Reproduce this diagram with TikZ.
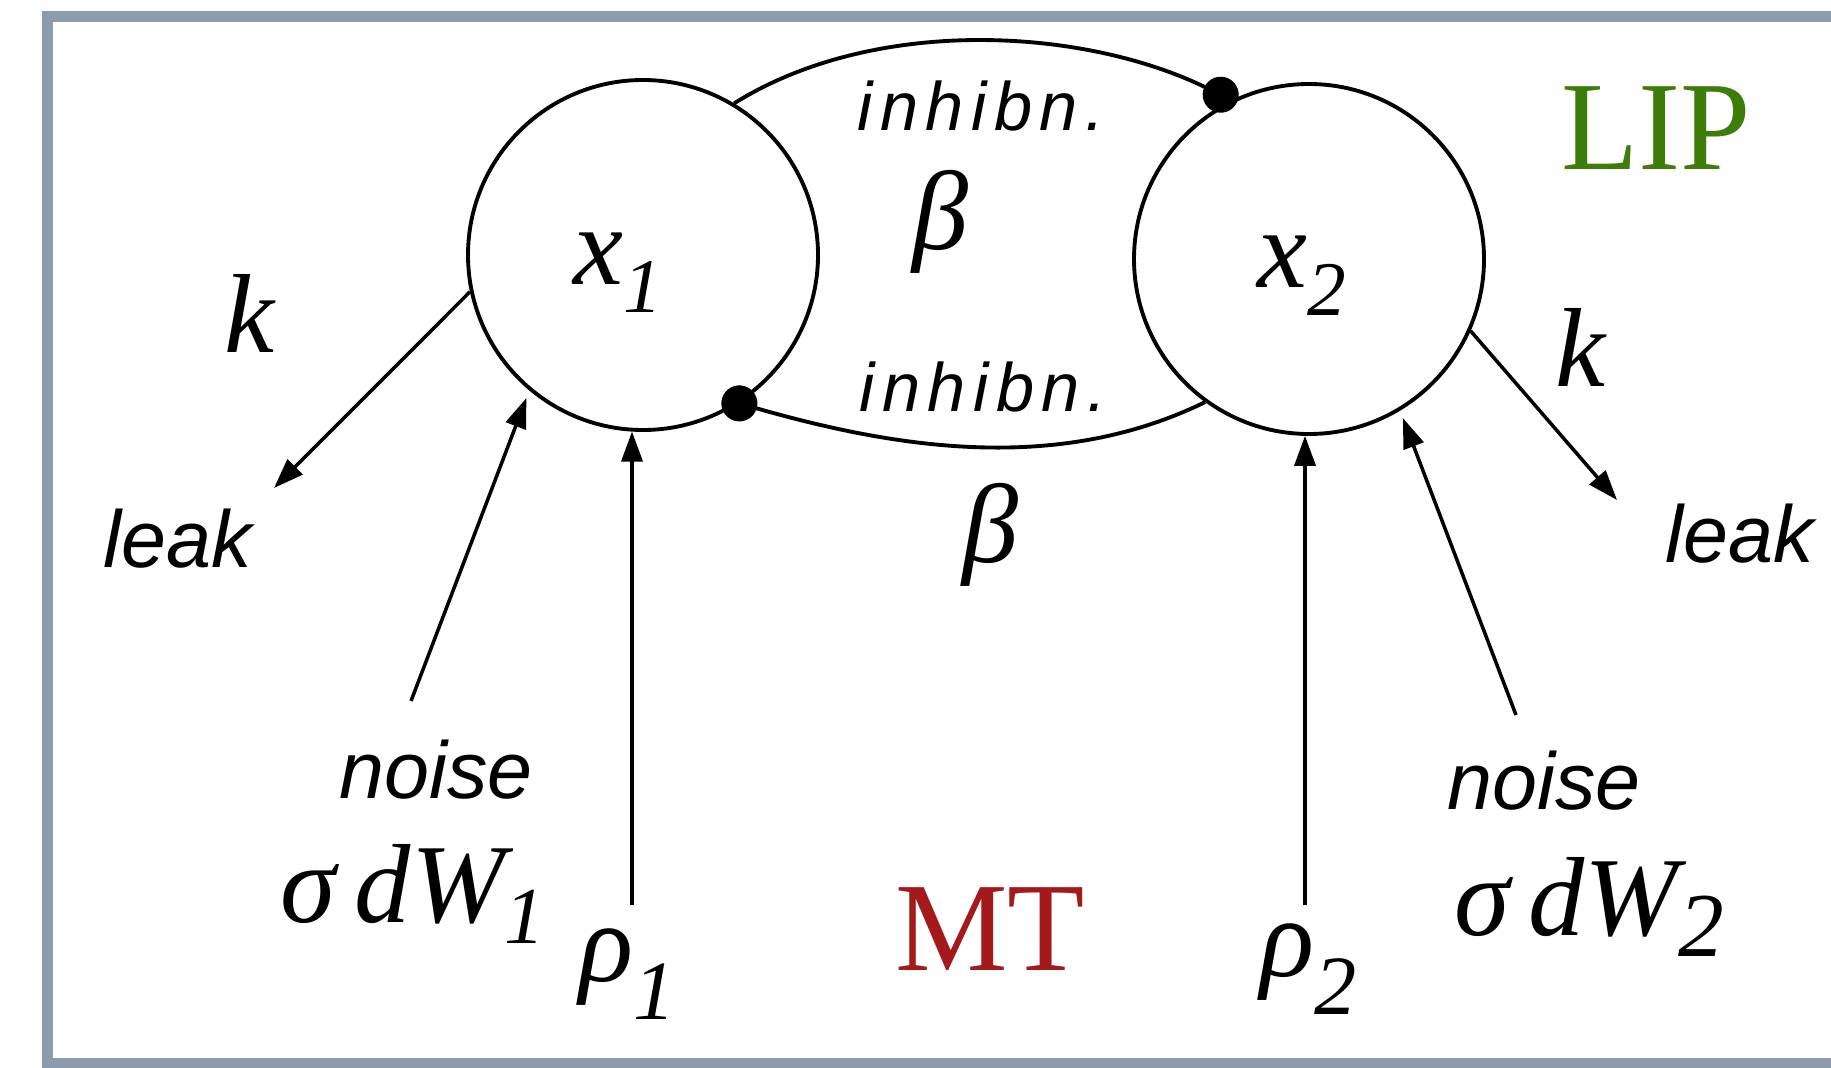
\documentclass[tikz,border=0pt]{standalone}
\usepackage[dvipsnames]{xcolor}
\usepackage{fontspec}
\usepackage{tikz}
\usetikzlibrary{arrows.meta}
\setmainfont{Liberation Serif}
\setsansfont{Liberation Sans}
\definecolor{boxgray}{HTML}{8D9BAF}
\definecolor{lipgreen}{HTML}{3F7D0B}
\definecolor{mtred}{HTML}{A3191C}
\newcommand{\lowsub}[3]{\raisebox{-#2}{\fontsize{#1}{#1}\selectfont #3}}

\begin{document}
\begin{tikzpicture}[
			cell/.style={circle,draw=black,line width=1.1pt,minimum size=3.5cm,inner sep=0pt},
			inp/.style={-{Triangle[length=3mm,width=2.1mm]},draw=black,line width=1pt},
			inh/.style={-{Circle[length=3.6mm]},draw=black,line width=1.1pt},
			word/.style={inner sep=0pt,font=\fontsize{23}{23}\selectfont\sffamily\itshape},
			inhword/.style={inner sep=0pt,font=\fontsize{19.5}{20}\selectfont\sffamily\itshape\addfontfeature{LetterSpace=11}},
			sym/.style={inner sep=0pt,font=\fontsize{32}{32}\selectfont\itshape},
			area/.style={inner sep=0pt,font=\fontsize{36}{36}\selectfont},
			boxedge/.style={draw=boxgray,line width=0.11cm}]
			\useasboundingbox (0,0) rectangle (18.31,10.67);
			\draw[boxedge] (18.6,10.50) -- (0.47,10.50) -- (0.47,0.04) -- (18.6,0.04);
			\node[cell] (x1) at (6.43,8.12) {};
			\node[cell] (x2) at (13.09,8.08) {};
			\node[sym] (x1lab) at (6.18,7.94) {x\lowsub{22}{8pt}{1}};
			\node[sym] (x2lab) at (13.02,7.91) {x\lowsub{22}{8pt}{2}};
			\coordinate (leak1end) at (2.74,5.79);
			\coordinate (leak2end) at (16.17,5.67);
			\coordinate (noise1end) at (4.11,3.66);
			\coordinate (noise2end) at (15.16,3.52);
			\coordinate (rho1end) at (6.32,1.62);
			\coordinate (rho2end) at (13.05,1.62);
			\draw[inh,shorten >=-0.6mm] (x1.59) to[out=32,in=154,looseness=0.85] (x2.116);
			\draw[inh,shorten >=-1.8mm] (x2.234) to[out=206,in=-16,looseness=0.9] (x1.303);
			\draw[inp] (x1.192) -- (leak1end);
			\draw[inp] (x2.336) -- (leak2end);
			\draw[inp,shorten >=0.8mm] (noise1end) -- (x1.230);
			\draw[inp,shorten >=0.8mm] (noise2end) -- (x2.301);
			\draw[inp] (rho1end) -- (rho1end |- x1.266);
			\draw[inp] (rho2end) -- (rho2end |- x2.268);
			\node[inhword] (inhtop) at (9.81,9.61) {inhibn.};
			\node[inhword] (inhbot) at (9.83,6.80) {inhibn.};
			\node[sym] (betatop) at (9.40,8.45) {β};
			\node[sym] (betabot) at (9.90,5.32) {β};
			\node[sym] (k1) at (2.49,7.54) {k};
			\node[sym] (k2) at (15.80,7.20) {k};
			\node[word] (leak1) at (1.78,5.28) {leak};
			\node[word] (leak2) at (17.40,5.33) {leak};
			\node[word] (noise1) at (4.36,2.97) {noise};
			\node[word] (noise2) at (15.44,2.86) {noise};
			\node[sym] (sig1) at (4.13,1.73) {σ\,dW\lowsub{23}{6pt}{1}};
			\node[sym] (sig2) at (15.89,1.60) {σ\,dW\lowsub{26}{6pt}{2}};
			\node[sym] (rho1) at (6.28,0.93) {ρ\lowsub{24}{11pt}{1}};
			\node[sym] (rho2) at (13.09,0.98) {ρ\lowsub{24}{11pt}{2}};
			\node[area,text=lipgreen] (lip) at (16.56,9.39) {LIP};
			\node[area,text=mtred] (mt) at (9.90,1.38) {MT};
		\end{tikzpicture}
\end{document}
